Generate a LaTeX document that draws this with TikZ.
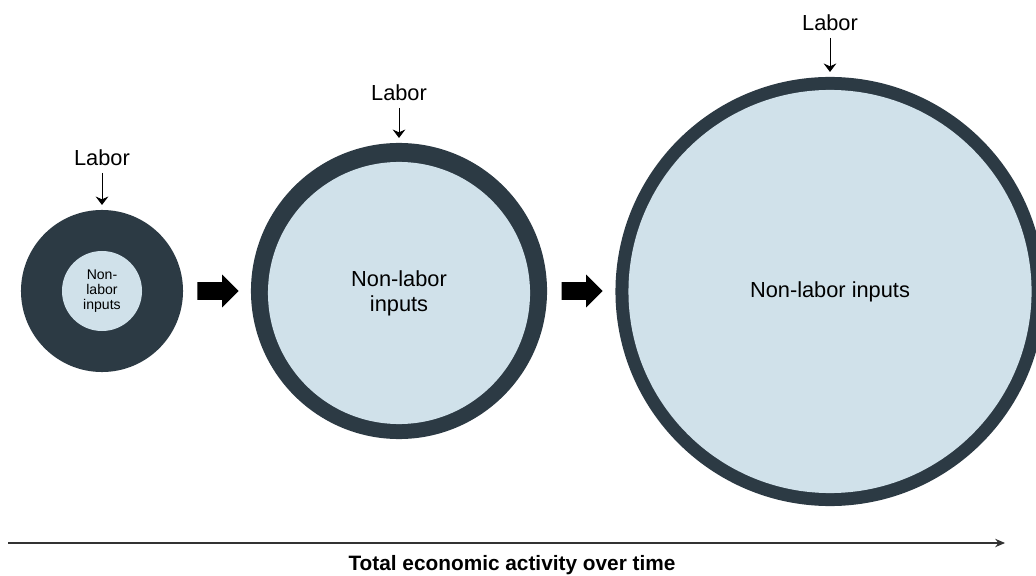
\documentclass[tikz,border=0pt]{standalone}
\usepackage{fontspec}
\setmainfont{Liberation Sans}
\usetikzlibrary{arrows.meta,shapes.arrows}
\definecolor{ringdark}{HTML}{2C3A44}
\definecolor{fillpale}{HTML}{D0E1EA}
\begin{document}
\begin{tikzpicture}[x=.025cm,y=-.025cm,line width=.7pt,
  ring/.style={circle,fill=ringdark,inner sep=0,outer sep=0},
  core/.style={circle,fill=fillpale,inner sep=0,outer sep=0,align=center,font=\fontsize{15.5}{17.8}\selectfont},
  lbl/.style={inner sep=4.5pt,font=\fontsize{15.5}{18}\selectfont},
  push/.style={single arrow,fill=black,anchor=tail,inner xsep=0,inner ysep=.2125cm,minimum height=1.025cm,single arrow head extend=.1875cm},
  lab/.style={-{Stealth[length=6pt,width=9pt,inset=2pt]},shorten >=1.25mm}]
  \useasboundingbox (0,0) rectangle (1036,576);
  % small circle
  \node[ring,minimum size=4.05cm] (c1) at (102,291) {};
  \node[core,minimum size=2cm,font=\fontsize{10}{10.5}\selectfont] (n1) at (102,291) {Non-\\labor\\inputs};
  \node[lbl] (l1) at (102,158) {Labor};
  \draw[lab] (l1) -- (c1);
  \node[push] (p1) at (197,291) {};
  % middle circle
  \node[ring,minimum size=7.4cm] (c2) at (399,291) {};
  \node[core,minimum size=6.55cm] (n2) at (399,293) {Non-labor\\inputs};
  \node[lbl] (l2) at (399,93) {Labor};
  \draw[lab] (l2) -- (c2);
  \node[push] (p2) at (561,291) {};
  % large circle
  \node[ring,minimum size=10.725cm] (c3) at (830,291.5) {};
  \node[core,minimum size=10.075cm] (n3) at (830,291.5) {Non-labor inputs};
  \node[lbl] (l3) at (830,23) {Labor};
  \draw[lab] (l3) -- (c3);
  % time axis
  \coordinate (t0) at (8,543);
  \coordinate (t1) at (1005,543);
  \draw[-{Stealth[length=7pt,width=6pt]},line width=.9pt,draw=black!80] (t0) -- (t1);
  \node[font=\bfseries\fontsize{14.8}{16}\selectfont] (tl) at (512,565) {Total economic activity over time};
\end{tikzpicture}
\end{document}
